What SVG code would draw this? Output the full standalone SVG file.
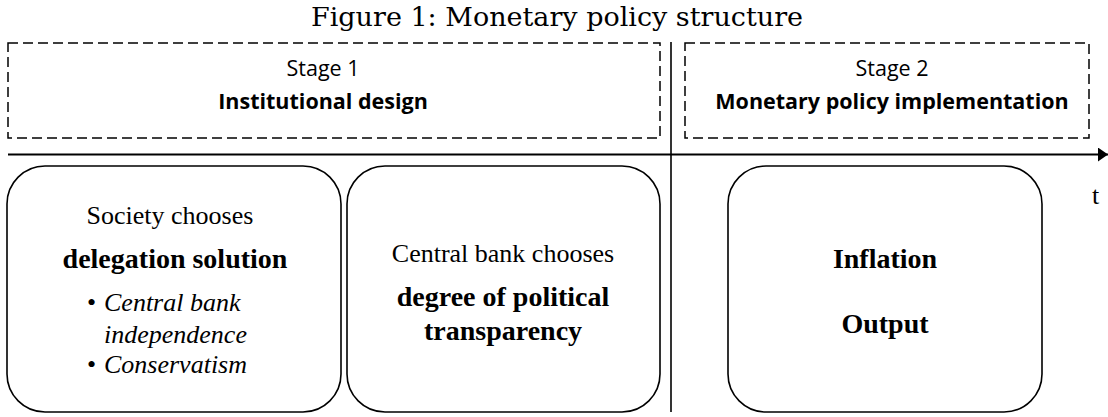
<svg xmlns="http://www.w3.org/2000/svg" width="1108" height="417" viewBox="0 0 1108 417">
<style>
.dash{fill:none;stroke:#000;stroke-width:1.5;stroke-dasharray:10,5}
.rbox{fill:#fff;stroke:#000;stroke-width:1.6}
.sans{font-family:"Open Sans","Liberation Sans",sans-serif;fill:#000;text-anchor:middle;font-size:21.5px}
.serif{font-family:"Liberation Serif","Times New Roman",serif;fill:#000;font-size:26px}
.mid{text-anchor:middle}
.b{font-weight:bold;font-size:28px}
.i{font-style:italic}
</style>
<defs>
<marker id="arr" markerWidth="10" markerHeight="14" refX="10" refY="7" orient="auto" markerUnits="userSpaceOnUse">
<path d="M0,0 L10,7 L0,14 z" fill="#000"/>
</marker>
</defs>
<text x="557" y="26" font-family="'DejaVu Serif','Liberation Serif',serif" font-size="26" text-anchor="middle" textLength="492" lengthAdjust="spacingAndGlyphs">Figure 1: Monetary policy structure</text>
<g id="connectors">
<line x1="8" y1="154.5" x2="1108" y2="154.5" stroke="#000" stroke-width="1.8" marker-end="url(#arr)"/>
<line x1="671" y1="42" x2="671" y2="412" stroke="#000" stroke-width="1.6"/>
</g>
<g id="stage1">
<rect class="dash" x="8" y="43" width="652" height="95"/>
<text class="sans" x="323" y="76">Stage 1</text>
<text class="sans" x="323" y="109" font-weight="bold">Institutional design</text>
</g>
<g id="stage2">
<rect class="dash" x="685" y="43" width="404" height="95"/>
<text class="sans" x="892" y="76">Stage 2</text>
<text class="sans" x="892" y="109" font-weight="bold">Monetary policy implementation</text>
</g>
<g id="society">
<rect class="rbox" x="7" y="166" width="334" height="246" rx="38" ry="38"/>
<text class="serif mid" x="170" y="224">Society chooses</text>
<text class="serif mid b" x="175" y="268">delegation solution</text>
<text class="serif" x="87" y="311">•</text>
<text class="serif i" x="104" y="311">Central bank</text>
<text class="serif i" x="104" y="343">independence</text>
<text class="serif" x="87" y="373">•</text>
<text class="serif i" x="104" y="373">Conservatism</text>
</g>
<g id="centralbank">
<rect class="rbox" x="347" y="166" width="313" height="246" rx="38" ry="38"/>
<text class="serif mid" x="503" y="262">Central bank chooses</text>
<text class="serif mid b" x="503" y="306">degree of political</text>
<text class="serif mid b" x="503" y="340">transparency</text>
</g>
<g id="outcomes">
<rect class="rbox" x="728" y="166" width="314" height="246" rx="38" ry="38"/>
<text class="serif mid b" x="885" y="268">Inflation</text>
<text class="serif mid b" x="885" y="333">Output</text>
</g>
<text class="serif" x="1092" y="204">t</text>
</svg>
